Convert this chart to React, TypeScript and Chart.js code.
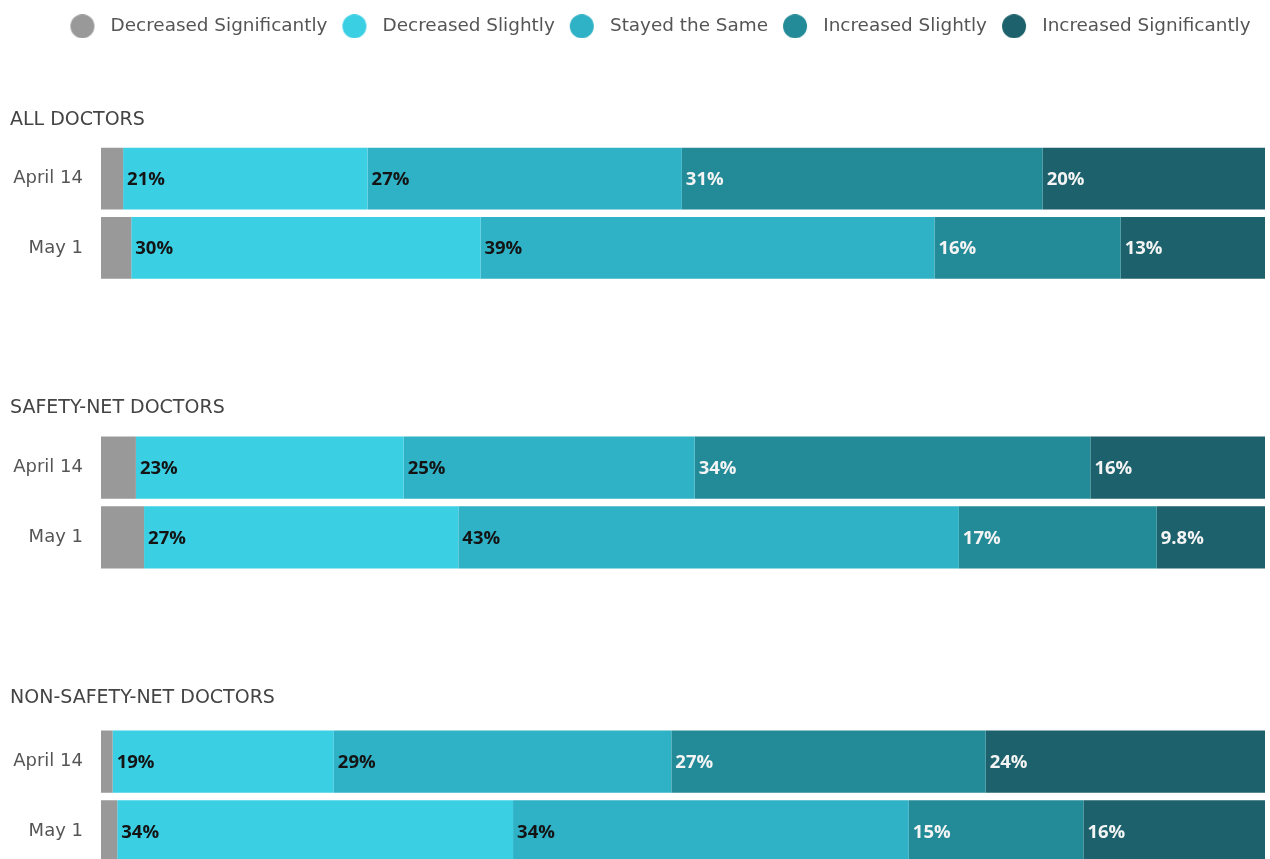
import React, { useEffect, useRef } from 'react';
import { Chart, registerables } from 'chart.js';

Chart.register(...registerables);

// ---------- data ----------
const CATEGORIES = ['April 14', 'May 1'];
const SERIES = [
  'Decreased Significantly',
  'Decreased Slightly',
  'Stayed the Same',
  'Increased Slightly',
  'Increased Significantly',
];
const SECTION_TITLES = ['ALL DOCTORS', 'SAFETY-NET DOCTORS', 'NON-SAFETY-NET DOCTORS'];

// values: [April 14, May 1]
const ALL_DEC_SIG = [1.9, 2.6];
const ALL_DEC_SLI = [21, 30];
const ALL_SAME = [27, 39];
const ALL_INC_SLI = [31, 16];
const ALL_INC_SIG = [20, 13];

const SN_DEC_SIG = [3.0, 3.7];
const SN_DEC_SLI = [23, 27];
const SN_SAME = [25, 43];
const SN_INC_SLI = [34, 17];
const SN_INC_SIG = [16, 9.8];

const NSN_DEC_SIG = [1.0, 1.4];
const NSN_DEC_SLI = [19, 34];
const NSN_SAME = [29, 34];
const NSN_INC_SLI = [27, 15];
const NSN_INC_SIG = [24, 16];

const SECTION_DATA = [
  [ALL_DEC_SIG, ALL_DEC_SLI, ALL_SAME, ALL_INC_SLI, ALL_INC_SIG],
  [SN_DEC_SIG, SN_DEC_SLI, SN_SAME, SN_INC_SLI, SN_INC_SIG],
  [NSN_DEC_SIG, NSN_DEC_SLI, NSN_SAME, NSN_INC_SLI, NSN_INC_SIG],
];

// ---------- style ----------
const COLORS = ['#999999', '#3bcfe4', '#2fb1c6', '#238a97', '#1c616b'];
const LABEL_COLORS: (string | null)[] = [null, '#141414', '#141414', '#f4f4f4', '#f4f4f4'];
const FONT = "'DejaVu Sans', 'Open Sans', sans-serif";
const LABEL_FONT = "'Open Sans', 'DejaVu Sans', sans-serif";

const SECTION_LAYOUT = [
  { height: 290, padTop: 7, titleTop: 63.2, titleBottom: 12.6, padBottom: 7.5, legend: true },
  { height: 290, padTop: 0, titleTop: 106.6, titleBottom: 13.35, padBottom: 7.75, legend: false },
  { height: 290, padTop: 0, titleTop: 106.6, titleBottom: 17.35, padBottom: 3.75, legend: false },
];

const fmt = (v: number) => (v < 10 ? v.toFixed(1) : String(Math.round(v))) + '%';

// legend markers: 24px circle inside a 36px wide box
function makeMarker(color: string) {
  const c = document.createElement('canvas');
  c.width = 36;
  c.height = 24;
  const g = c.getContext('2d') as CanvasRenderingContext2D;
  g.fillStyle = color;
  g.beginPath();
  g.arc(17, 12, 12, 0, Math.PI * 2);
  g.fill();
  return c;
}

const segmentLabels = {
  id: 'segmentLabels',
  afterLayout(chart: any) {
    if (chart.titleBlock) chart.titleBlock.left = 10;
    if (chart.legend && chart.legend.options.display) {
      chart.legend.left += 25.5;
      chart.legend.right += 25.5;
    }
  },
  afterDatasetsDraw(chart: any) {
    const { ctx, chartArea } = chart;
    ctx.save();
    ctx.beginPath();
    ctx.rect(chartArea.left, chartArea.top, chartArea.width, chartArea.height);
    ctx.clip();
    ctx.font = `bold 18.5px ${LABEL_FONT}`;
    ctx.textBaseline = 'middle';
    ctx.textAlign = 'left';
    chart.data.datasets.forEach((ds: any, i: number) => {
      const color = LABEL_COLORS[i];
      if (!color) return;
      const meta = chart.getDatasetMeta(i);
      meta.data.forEach((el: any, j: number) => {
        const v = ds.data[j];
        const { x, y, base } = el.getProps(['x', 'y', 'base'], true);
        ctx.fillStyle = color;
        ctx.fillText(fmt(v), Math.min(x, base) + 4, y + 1);
      });
    });
    ctx.restore();
  },
};

function Section({ index }: { index: number }) {
  const ref = useRef<HTMLCanvasElement | null>(null);
  useEffect(() => {
    document.body.style.margin = '0';
    const lay = SECTION_LAYOUT[index];
    const values = SECTION_DATA[index];
    const markers = COLORS.map(makeMarker);
    const chart = new Chart(ref.current as HTMLCanvasElement, {
      type: 'bar',
      data: {
        labels: CATEGORIES,
        datasets: SERIES.map((name, i) => ({
          label: name,
          data: values[i],
          backgroundColor: COLORS[i],
          borderWidth: 0,
          barPercentage: 0.892,
          categoryPercentage: 1,
        })),
      },
      options: {
        indexAxis: 'y',
        animation: false,
        responsive: true,
        maintainAspectRatio: false,
        layout: { padding: { top: lay.padTop, left: 0, right: 5, bottom: lay.padBottom } },
        scales: {
          x: { stacked: true, min: 0, max: 100, display: false },
          y: {
            stacked: true,
            grid: { display: false },
            border: { display: false },
            ticks: { padding: 10, color: '#555', font: { family: FONT, size: 18 } },
            afterFit: (s: any) => {
              s.width = 101;
              s.paddingTop = 0;
              s.paddingBottom = 0;
            },
          },
        },
        plugins: {
          legend: {
            display: lay.legend,
            position: 'top',
            weight: 3000,
            labels: {
              usePointStyle: true,
              pointStyleWidth: 36,
              color: '#555',
              padding: 10,
              font: { family: FONT, size: 18.4 },
              generateLabels: (c: any) =>
                Chart.defaults.plugins.legend.labels
                  .generateLabels(c)
                  .map((l: any, i: number) => ({ ...l, pointStyle: markers[i] })),
            },
          },
          title: {
            display: true,
            text: SECTION_TITLES[index],
            align: 'start',
            color: '#444',
            font: { family: FONT, size: 19, weight: 'normal' },
            padding: { top: lay.titleTop, bottom: lay.titleBottom },
          },
          tooltip: { enabled: false },
        },
      } as any,
      plugins: [segmentLabels],
    });
    return () => chart.destroy();
  }, [index]);
  const lay = SECTION_LAYOUT[index];
  return (
    <div style={{ position: 'relative', width: 1270, height: lay.height }}>
      <canvas ref={ref} />
    </div>
  );
}

export default function App() {
  return (
    <div style={{ width: 1270, background: '#fff' }}>
      <Section index={0} />
      <Section index={1} />
      <Section index={2} />
    </div>
  );
}
